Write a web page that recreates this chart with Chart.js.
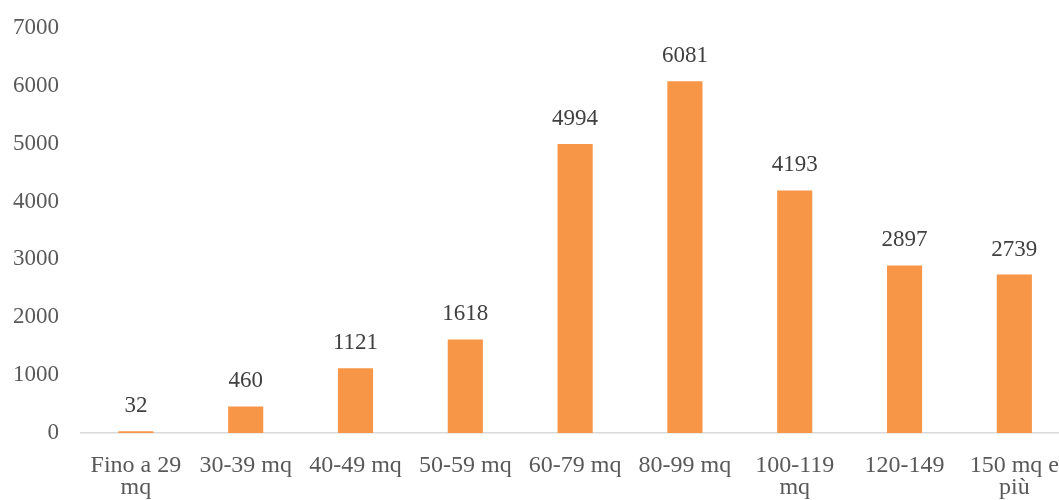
<!DOCTYPE html>
<html>
<head>
<meta charset="utf-8">
<script src="https://cdn.jsdelivr.net/npm/chart.js@4/dist/chart.umd.min.js"></script>
<style>
  html, body { margin: 0; padding: 0; background: #fff; overflow: hidden; }
  #wrap { width: 1081px; height: 500px; position: relative; }
</style>
</head>
<body>
<div id="wrap"><canvas id="chart"></canvas></div>
<script>
// Dwellings by floor area class
const categories = [
  ["Fino a 29", "mq"], "30-39 mq", "40-49 mq", "50-59 mq", "60-79 mq",
  "80-99 mq", ["100-119", "mq"], "120-149", ["150 mq e", "più"]
];
const counts = [32, 460, 1121, 1618, 4994, 6081, 4193, 2897, 2739];
const yTicks = [0, 1000, 2000, 3000, 4000, 5000, 6000, 7000];

const FONT = '"Liberation Serif", "Times New Roman", serif';
const TEXT = '#595959';

// Writes each bar's value just above it
const valueLabels = {
  id: 'valueLabels',
  afterDatasetsDraw(chart) {
    const ctx = chart.ctx;
    const meta = chart.getDatasetMeta(0);
    ctx.save();
    ctx.font = '23px ' + FONT;
    ctx.fillStyle = '#404040';
    ctx.textAlign = 'center';
    ctx.textBaseline = 'alphabetic';
    meta.data.forEach((bar, i) => {
      ctx.fillText(String(counts[i]), bar.x, bar.y - 19);
    });
    ctx.restore();
  }
};

new Chart(document.getElementById('chart'), {
  type: 'bar',
  data: {
    labels: categories,
    datasets: [{
      data: counts,
      backgroundColor: '#F79646',
      borderWidth: 0,
      barPercentage: 0.32,
      categoryPercentage: 1.0
    }]
  },
  options: {
    responsive: true,
    maintainAspectRatio: false,
    animation: false,
    layout: { padding: { top: 28, right: 0, bottom: 0, left: 0 } },
    plugins: { legend: { display: false }, tooltip: { enabled: false } },
    scales: {
      x: {
        grid: { display: false, drawTicks: false },
        border: { display: true, color: '#D9D9D9', width: 1.5 },
        afterFit(scale) { scale.height = 67; },
        ticks: {
          color: TEXT,
          font: { family: FONT, size: 24, lineHeight: 0.92 },
          padding: 22,
          maxRotation: 0,
          autoSkip: false
        }
      },
      y: {
        min: 0,
        max: 7000,
        grid: { display: false, drawTicks: false },
        border: { display: false },
        afterFit(scale) {
          scale.width = 81;
          scale.paddingTop = 0;
          scale.paddingBottom = 0;
        },
        afterBuildTicks(scale) { scale.ticks = yTicks.map(v => ({ value: v })); },
        ticks: {
          color: TEXT,
          font: { family: FONT, size: 23 },
          padding: 22,
          callback: v => String(v)
        }
      }
    }
  },
  plugins: [valueLabels]
});
</script>
</body>
</html>
